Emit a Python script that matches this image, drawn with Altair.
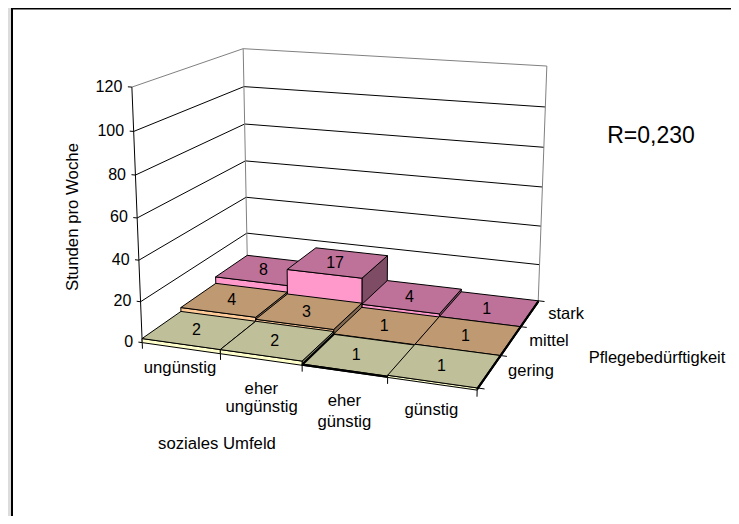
import numpy as np
import altair as alt

# ---- data
umfeld = ["ungünstig", "eher ungünstig", "eher günstig", "günstig"]
pflege = ["gering", "mittel", "stark"]
stunden_gering = [2.0, 2.0, 0.6, 1.0]
stunden_mittel = [4.0, 3.0, 0.8, 1.0]
stunden_stark = [7.5, 16.0, 2.4, 1.0]
anzahl_gering = [2, 2, 1, 1]
anzahl_mittel = [4, 3, 1, 1]
anzahl_stark = [8, 17, 4, 1]
z_ticks = [0, 20, 40, 60, 80, 100, 120]
row_top = ["#BFBF99", "#BF9972", "#BF7299"]
row_front = ["#FFFFCC", "#FFCC99", "#FF99CC"]
row_side = ["#7F7F66", "#7F664C", "#7F4C66"]

# ---- camera of the 3-D view, calibrated on the visible box corners
# (column, row, hours) -> pixel of the reference picture
calib = [
    ((0, 0, 0), (142.3, 343)), ((0, 0, 20), (140.7, 302)), ((0, 0, 40), (138.3, 260.7)),
    ((0, 0, 60), (137, 217)), ((0, 0, 80), (135.5, 174)), ((0, 0, 100), (134.3, 131.7)), ((0, 0, 120), (131.7, 87.7)),
    ((0, 3, 20), (247, 234)), ((0, 3, 40), (246.3, 199)), ((0, 3, 80), (244.7, 124.3)), ((0, 3, 100), (244, 86.7)), ((0, 3, 120), (242.7, 48.3)),
    ((4, 3, 20), (539.7, 265.7)), ((4, 3, 40), (541, 226)), ((4, 3, 60), (542.3, 186.7)),
    ((4, 3, 80), (544, 147.3)), ((4, 3, 100), (545, 107.3)), ((4, 3, 120), (547.3, 66)),
    ((4, 3, 1), (538.5, 301.7)), ((4, 2, 1), (520, 327.3)), ((4, 1, 1), (500, 355)), ((4, 0, 1), (476.7, 388.3)),
    ((1, 0, 0), (220.7, 355.5)), ((2, 0, 0), (302.7, 365)), ((3, 0, 0), (387.3, 376)),
    ((0, 0, 2), (141.7, 339)), ((0, 1, 4), (180.7, 308)), ((0, 2, 7.5), (215.7, 276.7)), ((0, 3, 7.5), (247.7, 254.3)),
    ((1, 2, 16), (287.3, 268.3)), ((2, 2, 16), (362.7, 276.7)), ((1, 3, 16), (315, 246.7)), ((2, 3, 16), (386.7, 255)),
]
A, b = [], []
for (X, Y, Z), (u, v) in calib:
    Z = Z / 40
    A.append([X, Y, Z, 1, 0, 0, 0, 0, -u * X, -u * Y, -u * Z]); b.append(u)
    A.append([0, 0, 0, 0, X, Y, Z, 1, -v * X, -v * Y, -v * Z]); b.append(v)
p = np.linalg.lstsq(np.array(A, float), np.array(b, float), rcond=None)[0]
P = np.append(p, 1).reshape(3, 4)


def proj(X, Y, Z):
    w = P @ np.array([X, Y, Z / 40, 1.0])
    return [float(w[0] / w[2]) - 8, float(w[1] / w[2]) - 8]


def poly(points, **props):
    pts = list(points) + [points[0]]
    return {"type": "Feature", "properties": props,
            "geometry": {"type": "Polygon", "coordinates": [pts]}}


def line(points, **props):
    return {"type": "Feature", "properties": props,
            "geometry": {"type": "LineString", "coordinates": list(points)}}


def shapes(features):
    return alt.Chart(alt.InlineData(values=features))


# ---- walls and grid
grid = [line([proj(0, 0, z), proj(0, 3, z), proj(4, 3, z)]) for z in z_ticks[1:-1]]
walls = [
    line([proj(0, 0, 120), proj(0, 3, 120), proj(4, 3, 120), proj(4, 3, 0)]),
    line([proj(0, 3, 120), proj(0, 3, 0)]),
]
axes = [line([proj(0, 0, 0), proj(0, 0, 120)])]
axes += [line([proj(-0.05, 0, z), proj(0, 0, z)]) for z in z_ticks]
axes += [line([proj(i, 0, 0), proj(i, 0, -3)]) for i in range(5)]
axes += [line([proj(4, j, 1), proj(4.08, j, 1)]) for j in range(4)]

# ---- bars, painted from back to front
stunden = [stunden_gering, stunden_mittel, stunden_stark]
anzahl = [anzahl_gering, anzahl_mittel, anzahl_stark]
faces = []
for j in (2, 1, 0):
    for i in range(4):
        h = stunden[j][i]
        faces.append(poly([proj(i + 1, j, 0), proj(i + 1, j + 1, 0), proj(i + 1, j + 1, h), proj(i + 1, j, h)], fill=row_side[j]))
        faces.append(poly([proj(i, j, 0), proj(i + 1, j, 0), proj(i + 1, j, h), proj(i, j, h)], fill=row_front[j]))
        faces.append(poly([proj(i, j, h), proj(i + 1, j, h), proj(i + 1, j + 1, h), proj(i, j + 1, h)], fill=row_top[j]))

# the narrow side faces read as heavy black edges
heavy = [
    line([proj(4, 0, 0.5), proj(4, 3, 0.5)]),
    line([proj(2, 0, 0.3), proj(2, 1, 0.6)]),
    line([proj(2, 0, 0.3), proj(3, 0, 0.3)]),
]

# ---- frame of the picture
frame = [
    poly([[0, 0], [3, 0], [3, 508], [0, 508]], fill="#DCDCDC"),
    poly([[3, 0], [723, 0], [723, 1.5], [3, 1.5]], fill="#000000"),
    poly([[3, 0], [5, 0], [5, 508], [3, 508]], fill="#000000"),
]

# ---- texts
labels = []
for j in range(3):
    for i in range(4):
        x, y = proj(i + 0.47, j + 0.47, stunden[j][i])
        labels.append({"lon": x, "lat": y, "t": str(anzahl[j][i])})

ticktext = []
for z in z_ticks:
    x, y = proj(-0.12, 0, z)
    ticktext.append({"lon": x, "lat": y + 0.5, "t": str(z)})

cat_lines = [("ungünstig", 0.48, -10), ("eher", 1.5, -14), ("ungünstig", 1.5, -23),
             ("eher", 2.5, -14), ("günstig", 2.5, -24), ("günstig", 3.5, -12)]
cattext = []
for t, X, Z in cat_lines:
    x, y = proj(X, 0, Z)
    cattext.append({"lon": x, "lat": y, "t": t})

free = [("soziales Umfeld", 217, 444, 16.7), ("stark", 566, 314, 16.5), ("mittel", 549, 341, 16.5),
        ("gering", 531, 371, 16.5), ("Pflegebedürftigkeit", 657, 358, 16.5), ("R=0,230", 651, 136, 23)]
freetext = [{"lon": x - 8, "lat": y - 8, "t": t, "s": s} for t, x, y, s in free]
vertical = [{"lon": 73 - 8, "lat": 217 - 8, "t": "Stunden pro Woche"}]

FONT = "Liberation Sans"
enc = dict(longitude=alt.Longitude("lon:Q"), latitude=alt.Latitude("lat:Q"), text=alt.Text("t:N"))
fill = alt.Color("properties.fill:N", scale=None)

chart = alt.layer(
    shapes(frame).mark_geoshape(strokeWidth=0).encode(color=fill),
    shapes(grid).mark_geoshape(filled=False, stroke="#000000", strokeWidth=1),
    shapes(walls).mark_geoshape(filled=False, stroke="#808080", strokeWidth=1),
    shapes(axes).mark_geoshape(filled=False, stroke="#000000", strokeWidth=1),
    shapes(faces).mark_geoshape(stroke="#000000", strokeWidth=1).encode(color=fill),
    shapes(heavy).mark_geoshape(filled=False, stroke="#000000", strokeWidth=2.2),
    alt.Chart(alt.Data(values=labels)).mark_text(font=FONT, fontSize=16, color="#000000").encode(**enc),
    alt.Chart(alt.Data(values=ticktext)).mark_text(font=FONT, fontSize=16, align="right", color="#000000").encode(**enc),
    alt.Chart(alt.Data(values=cattext)).mark_text(font=FONT, fontSize=16.7, color="#000000").encode(**enc),
    alt.Chart(alt.Data(values=freetext)).mark_text(font=FONT, color="#000000").encode(size=alt.Size("s:Q", scale=None), **enc),
    alt.Chart(alt.Data(values=vertical)).mark_text(font=FONT, fontSize=16.8, angle=270, color="#000000").encode(**enc),
).project(type="identity", scale=1, translate=[0, 0]).properties(
    width=723, height=508, padding=0, autosize=alt.AutoSizeParams(type="none")
).configure_view(stroke=None)

chart.save("out.html", embed_options={"renderer": "svg", "actions": False})
